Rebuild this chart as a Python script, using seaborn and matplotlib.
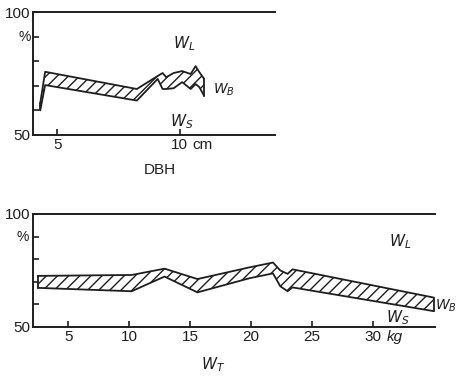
import matplotlib
matplotlib.use("Agg")
import matplotlib.pyplot as plt
import seaborn as sns
import pandas as pd

# ---- data: top panel (DBH, cm) ----
dbh_x = [4.3, 4.5, 8.25, 9.1, 9.3, 9.45, 9.75, 10.1, 10.45, 10.65, 10.8, 11.0]
dbh_upper = [63.0, 75.7, 68.7, 74.0, 75.2, 73.5, 75.2, 76.0, 74.8, 78.0, 75.6, 72.8]
dbh_lower = [60.0, 70.3, 64.0, 72.8, 68.7, 68.7, 69.0, 71.5, 68.7, 70.7, 69.5, 65.9]

# ---- data: bottom panel (WT, kg) ----
wt_x = [2.5, 10.2, 12.9, 15.6, 19.9, 21.8, 22.4, 23.0, 23.4, 35.0]
wt_upper = [72.6, 73.0, 75.8, 71.2, 76.4, 78.5, 75.0, 73.5, 75.5, 63.0]
wt_lower = [67.3, 65.8, 72.3, 65.3, 71.6, 73.7, 68.0, 65.8, 67.5, 57.0]

top_xticks = [5, 10]
bot_xticks = [5, 10, 15, 20, 25, 30]

sns.set_theme(style="ticks")
plt.rcParams["font.family"] = ["Liberation Sans", "DejaVu Sans"]
plt.rcParams["mathtext.fontset"] = "dejavusans"
plt.rcParams["hatch.linewidth"] = 1.0

c = "#1e1e1e"
fig = plt.figure(figsize=(4.57, 3.78), dpi=100)
ax1 = fig.add_axes([0.072, 0.643, 0.53, 0.325])
ax2 = fig.add_axes([0.072, 0.135, 0.88, 0.299])

def style(ax, xlim, xticks):
    ax.set_xlim(*xlim)
    ax.set_ylim(50, 100)
    ax.set_xticks(xticks)
    ax.set_xticklabels([str(t) for t in xticks])
    ax.set_yticks([50, 60, 70, 80, 90, 100])
    ax.set_yticklabels(["50", "", "", "", "", "100"])
    for s in ["left", "bottom", "top"]:
        ax.spines[s].set_linewidth(1.4)
        ax.spines[s].set_color(c)
    ax.spines["right"].set_visible(False)
    ax.tick_params(direction="in", length=4, width=1.2, colors=c,
                   labelsize=11, pad=2)
    ax.set_xlabel("")
    ax.set_ylabel("")
    ax.text(-0.01, 90, "%", transform=ax.get_yaxis_transform(),
            ha="right", va="center", fontsize=10, color=c)

def band(ax, x, up, lo):
    ax.fill_between(x, lo, up, facecolor="white", edgecolor=c,
                    hatch="///", linewidth=0)
    df = pd.DataFrame({"x": x + x, "y": up + lo,
                       "s": ["u"] * len(x) + ["l"] * len(x)})
    sns.lineplot(data=df, x="x", y="y", units="s", estimator=None,
                 color=c, linewidth=1.3, ax=ax, sort=False)
    ax.plot([x[0], x[0]], [lo[0], up[0]], color=c, lw=1.3)
    ax.plot([x[-1], x[-1]], [lo[-1], up[-1]], color=c, lw=1.3)

band(ax1, dbh_x, dbh_upper, dbh_lower)
style(ax1, (4.0, 13.9), top_xticks)
band(ax2, wt_x, wt_upper, wt_lower)
style(ax2, (2.1, 35.1), bot_xticks)

ax1.text(10.2, 87, "$W_L$", fontsize=11, ha="center", va="center", color=c)
ax1.text(11.35, 68.3, "$W_B$", fontsize=10, ha="left", va="center", color=c)
ax1.text(10.1, 55.3, "$W_S$", fontsize=11, ha="center", va="center", color=c)
ax1.text(10.5, 48.9, "cm", fontsize=11, ha="left", va="top", color=c, clip_on=False)
fig.text(0.35, 0.55, "DBH", fontsize=11, ha="center", va="center", color=c)

ax2.text(32.2, 87.6, "$W_L$", fontsize=11, ha="center", va="center", color=c)
ax2.text(35.1, 59.5, "$W_B$", fontsize=10, ha="left", va="center", color=c, clip_on=False)
ax2.text(32.0, 54.0, "$W_S$", fontsize=11, ha="center", va="center", color=c)
ax2.text(31.1, 48.8, "kg", fontsize=11, fontstyle="italic", ha="left", va="top",
         color=c, clip_on=False)
ax2.text(16.9, 33.5, "$W_T$", fontsize=11, ha="center", va="center", color=c, clip_on=False)

fig.savefig("out.png", dpi=100)
